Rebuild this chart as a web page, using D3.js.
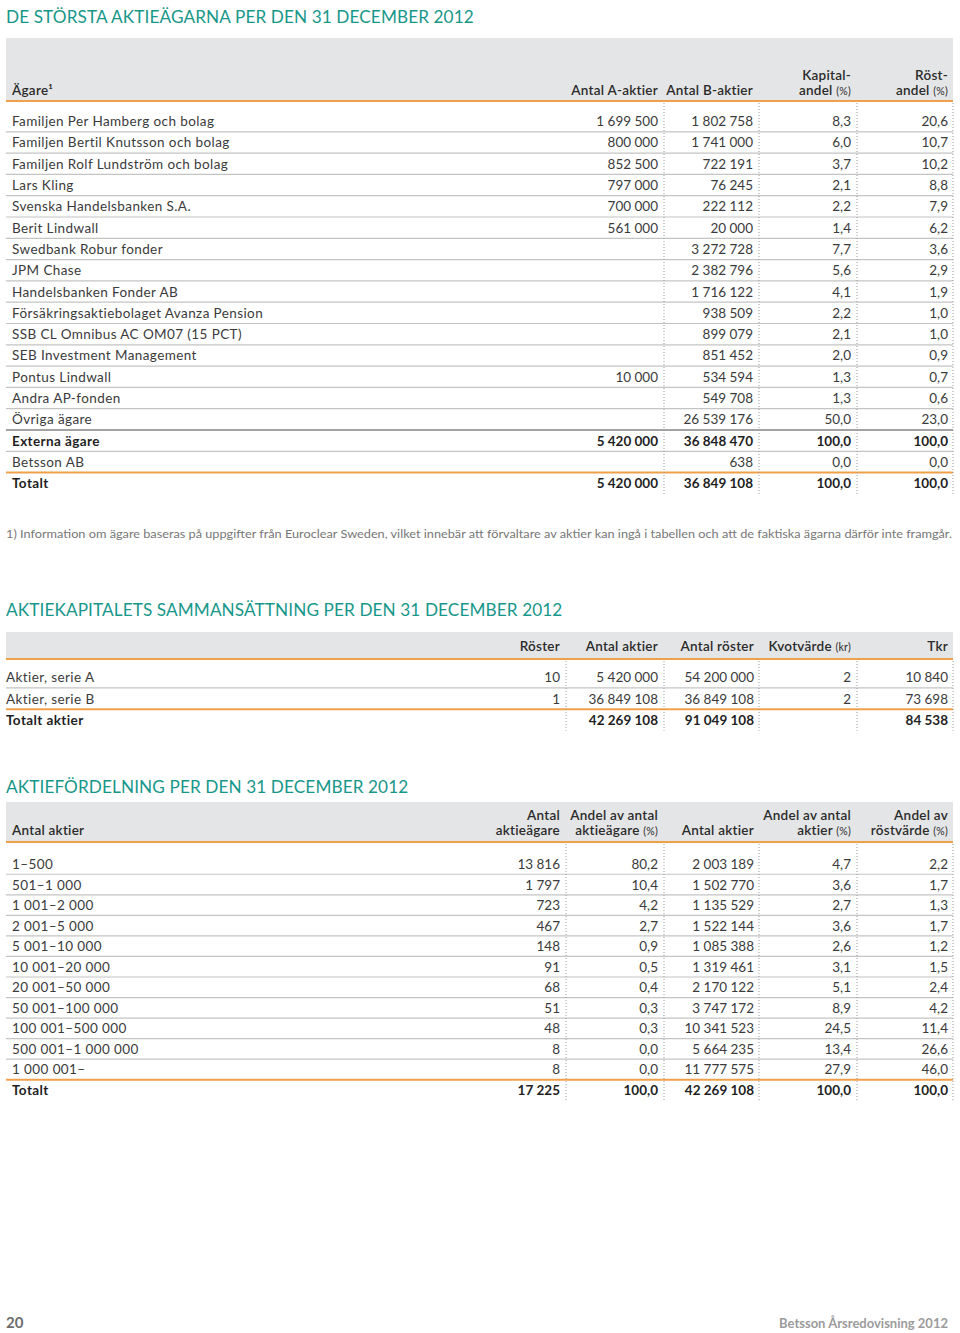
<!DOCTYPE html>
<html>
<head>
<meta charset="utf-8">
<script src="https://cdn.jsdelivr.net/npm/d3@7"></script>
<style>
  body { margin: 0; background: #fff; }
  svg { display: block; font-family: Lato, "Open Sans", sans-serif; }
  .title { fill: #17978a; font-size: 17.2px; letter-spacing: 0.1px; }
  .head { fill: #2b2b2b; font-size: 13.5px; font-weight: 600; letter-spacing: 0.25px; }
  .cell { fill: #3b3b3b; font-size: 13.5px; }
  .label { letter-spacing: 0.4px; }
  .bold { font-weight: 700; fill: #1f1f1f; }
  .small { font-size: 10.5px; font-weight: 400; }
</style>
</head>
<body>
<svg id="page" width="960" height="1333"></svg>
<script>
(function(){

// --- table 1: largest shareholders
let ownerNames = ["Familjen Per Hamberg och bolag", "Familjen Bertil Knutsson och bolag",
  "Familjen Rolf Lundström och bolag", "Lars Kling", "Svenska Handelsbanken S.A.",
  "Berit Lindwall", "Swedbank Robur fonder", "JPM Chase", "Handelsbanken Fonder AB",
  "Försäkringsaktiebolaget Avanza Pension", "SSB CL Omnibus AC OM07 (15 PCT)",
  "SEB Investment Management", "Pontus Lindwall", "Andra AP-fonden", "Övriga ägare",
  "Externa ägare", "Betsson AB", "Totalt"];
let ownerA = [1699500, 800000, 852500, 797000, 700000, 561000, null, null, null, null,
  null, null, 10000, null, null, 5420000, null, 5420000];
let ownerB = [1802758, 1741000, 722191, 76245, 222112, 20000, 3272728, 2382796, 1716122,
  938509, 899079, 851452, 534594, 549708, 26539176, 36848470, 638, 36849108];
let ownerKapital = [8.3, 6.0, 3.7, 2.1, 2.2, 1.4, 7.7, 5.6, 4.1, 2.2, 2.1, 2.0, 1.3, 1.3,
  50.0, 100.0, 0.0, 100.0];
let ownerRost = [20.6, 10.7, 10.2, 8.8, 7.9, 6.2, 3.6, 2.9, 1.9, 1.0, 1.0, 0.9, 0.7, 0.6,
  23.0, 100.0, 0.0, 100.0];

// --- table 2: share capital
let capNames = ["Aktier, serie A", "Aktier, serie B", "Totalt aktier"];
let capRoster = [10, 1, null];
let capAktier = [5420000, 36849108, 42269108];
let capAntalRoster = [54200000, 36849108, 91049108];
let capKvot = [2, 2, null];
let capTkr = [10840, 73698, 84538];

// --- table 3: distribution
let distNames = ["1–500", "501–1 000", "1 001–2 000", "2 001–5 000", "5 001–10 000",
  "10 001–20 000", "20 001–50 000", "50 001–100 000", "100 001–500 000",
  "500 001–1 000 000", "1 000 001–", "Totalt"];
let distOwners = [13816, 1797, 723, 467, 148, 91, 68, 51, 48, 8, 8, 17225];
let distOwnerShare = [80.2, 10.4, 4.2, 2.7, 0.9, 0.5, 0.4, 0.3, 0.3, 0.0, 0.0, 100.0];
let distShares = [2003189, 1502770, 1135529, 1522144, 1085388, 1319461, 2170122,
  3747172, 10341523, 5664235, 11777575, 42269108];
let distShareShare = [4.7, 3.6, 2.7, 3.6, 2.6, 3.1, 5.1, 8.9, 24.5, 13.4, 27.9, 100.0];
let distVoteShare = [2.2, 1.7, 1.3, 1.7, 1.2, 1.5, 2.4, 4.2, 11.4, 26.6, 46.0, 100.0];

let locale = d3.formatLocale({decimal: ",", thousands: " ", grouping: [3]});
let fmtInt = locale.format(",d"),
    fmtPct = locale.format(",.1f");

let svg = d3.select("#page");

let grey = "#e4e5e6", orange = "#f0a04b", rule = "#c4c4c4";

function drawTable (cfg)
{
  let n = cfg.rows.length;
  let y = d3.scaleBand()
    .domain(d3.range(n))
    .range([cfg.bodyTop, cfg.bodyTop + n * cfg.step]);

  let g = svg.append("g");

  g.append("text")
    .attr("class", "title")
    .attr("x", 6)
    .attr("y", cfg.titleY)
    .text(cfg.title);

  g.append("rect")
    .attr("x", 6).attr("y", cfg.headTop)
    .attr("width", 947).attr("height", cfg.headBottom - cfg.headTop)
    .attr("fill", grey);

  g.append("line")
    .attr("x1", 6).attr("x2", 953)
    .attr("y1", cfg.headBottom).attr("y2", cfg.headBottom)
    .attr("stroke", orange).attr("stroke-width", 2);

  // header labels
  cfg.headers.forEach((lines, ci) => {
    let x = ci == 0 ? cfg.labelX : cfg.cols[ci - 1];
    lines.forEach((ln, li) => {
      let t = g.append("text")
        .attr("class", "head")
        .attr("x", x)
        .attr("y", cfg.headBase - (lines.length - 1 - li) * 15)
        .attr("text-anchor", ci == 0 ? "start" : "end");
      t.append("tspan").text(ln[0]);
      if (ln[1]) t.append("tspan").attr("class", "small").text(ln[1]);
    });
  });

  // row separators
  for (let i = 1; i < n; i++) {
    let style = (cfg.sepStyle && cfg.sepStyle[i]) || "normal";
    g.append("line")
      .attr("x1", 6).attr("x2", 953)
      .attr("y1", y(i)).attr("y2", y(i))
      .attr("stroke", style == "orange" ? orange : style == "dark" ? "#a3a3a3" : rule)
      .attr("stroke-width", style == "normal" ? 1.2 : 2);
  }

  // dotted column dividers
  cfg.dividers.forEach(dx => {
    g.append("line")
      .attr("x1", dx).attr("x2", dx)
      .attr("y1", cfg.headBottom + 2).attr("y2", y(n - 1) + cfg.step)
      .attr("stroke", "#9a9a9a")
      .attr("stroke-dasharray", "1,2");
  });

  // cells
  let rowG = g.selectAll("g.row")
    .data(cfg.rows)
    .enter()
    .append("g")
    .attr("class", "row")
    .attr("transform", (d, i) => "translate(0," + (y(i) + y.bandwidth() / 2 + 5) + ")");

  rowG.each(function(row, ri) {
    let sel = d3.select(this);
    let bold = cfg.boldRows.includes(ri);
    row.forEach((v, ci) => {
      if (v == null || v === "") return;
      sel.append("text")
        .attr("class", "cell" + (bold ? " bold" : "") + (ci == 0 ? " label" : ""))
        .attr("x", ci == 0 ? cfg.labelX : cfg.cols[ci - 1])
        .attr("text-anchor", ci == 0 ? "start" : "end")
        .text(v);
    });
  });
}

let f = (fn) => (v) => v == null ? null : fn(v);

drawTable({
  title: "DE STÖRSTA AKTIEÄGARNA PER DEN 31 DECEMBER 2012",
  titleY: 23,
  headTop: 38, headBottom: 101, headBase: 95,
  bodyTop: 110.5, step: 21.3,
  labelX: 12,
  cols: [658, 753, 851, 948],
  dividers: [664, 759, 857, 953],
  headers: [[["Ägare¹"]], [["Antal A-aktier"]], [["Antal B-aktier"]],
    [["Kapital-"], ["andel ", "(%)"]], [["Röst-"], ["andel ", "(%)"]]],
  rows: ownerNames.map((nm, i) => [nm, f(fmtInt)(ownerA[i]), fmtInt(ownerB[i]),
    fmtPct(ownerKapital[i]), fmtPct(ownerRost[i])]),
  boldRows: [15, 17],
  sepStyle: {15: "dark", 17: "orange"}
});

drawTable({
  title: "AKTIEKAPITALETS SAMMANSÄTTNING PER DEN 31 DECEMBER 2012",
  titleY: 616,
  headTop: 632, headBottom: 659, headBase: 651,
  bodyTop: 666.5, step: 21.4,
  labelX: 6,
  cols: [560, 658, 754, 851, 948],
  dividers: [566, 664, 759, 857, 953],
  headers: [[[""]], [["Röster"]], [["Antal aktier"]], [["Antal röster"]],
    [["Kvotvärde ", "(kr)"]], [["Tkr"]]],
  rows: capNames.map((nm, i) => [nm, f(fmtInt)(capRoster[i]), fmtInt(capAktier[i]),
    fmtInt(capAntalRoster[i]), f(fmtInt)(capKvot[i]), fmtInt(capTkr[i])]),
  boldRows: [2],
  sepStyle: {2: "orange"}
});

drawTable({
  title: "AKTIEFÖRDELNING PER DEN 31 DECEMBER 2012",
  titleY: 793,
  headTop: 802, headBottom: 842, headBase: 835,
  bodyTop: 853.7, step: 20.55,
  labelX: 12,
  cols: [560, 658, 754, 851, 948],
  dividers: [566, 664, 759, 857, 953],
  headers: [[["Antal aktier"]], [["Antal"], ["aktieägare"]],
    [["Andel av antal"], ["aktieägare ", "(%)"]], [["Antal aktier"]],
    [["Andel av antal"], ["aktier ", "(%)"]], [["Andel av"], ["röstvärde ", "(%)"]]],
  rows: distNames.map((nm, i) => [nm, fmtInt(distOwners[i]), fmtPct(distOwnerShare[i]),
    fmtInt(distShares[i]), fmtPct(distShareShare[i]), fmtPct(distVoteShare[i])]),
  boldRows: [11],
  sepStyle: {11: "orange"}
});

// footnote
svg.append("text")
  .attr("x", 6).attr("y", 538)
  .attr("fill", "#777")
  .style("font-size", "12px")
  .attr("textLength", 946)
  .attr("lengthAdjust", "spacingAndGlyphs")
  .text("1) Information om ägare baseras på uppgifter från Euroclear Sweden, vilket innebär att förvaltare av aktier kan ingå i tabellen och att de faktiska ägarna därför inte framgår.");

// page footer
svg.append("text")
  .attr("x", 6).attr("y", 1328)
  .attr("fill", "#6d6d6d")
  .style("font-size", "15px").style("font-weight", "700")
  .text("20");

svg.append("text")
  .attr("x", 948).attr("y", 1328)
  .attr("text-anchor", "end")
  .attr("fill", "#9b9b9b")
  .style("font-size", "13px").style("font-weight", "700")
  .text("Betsson Årsredovisning 2012");

})();
</script>
</body>
</html>
